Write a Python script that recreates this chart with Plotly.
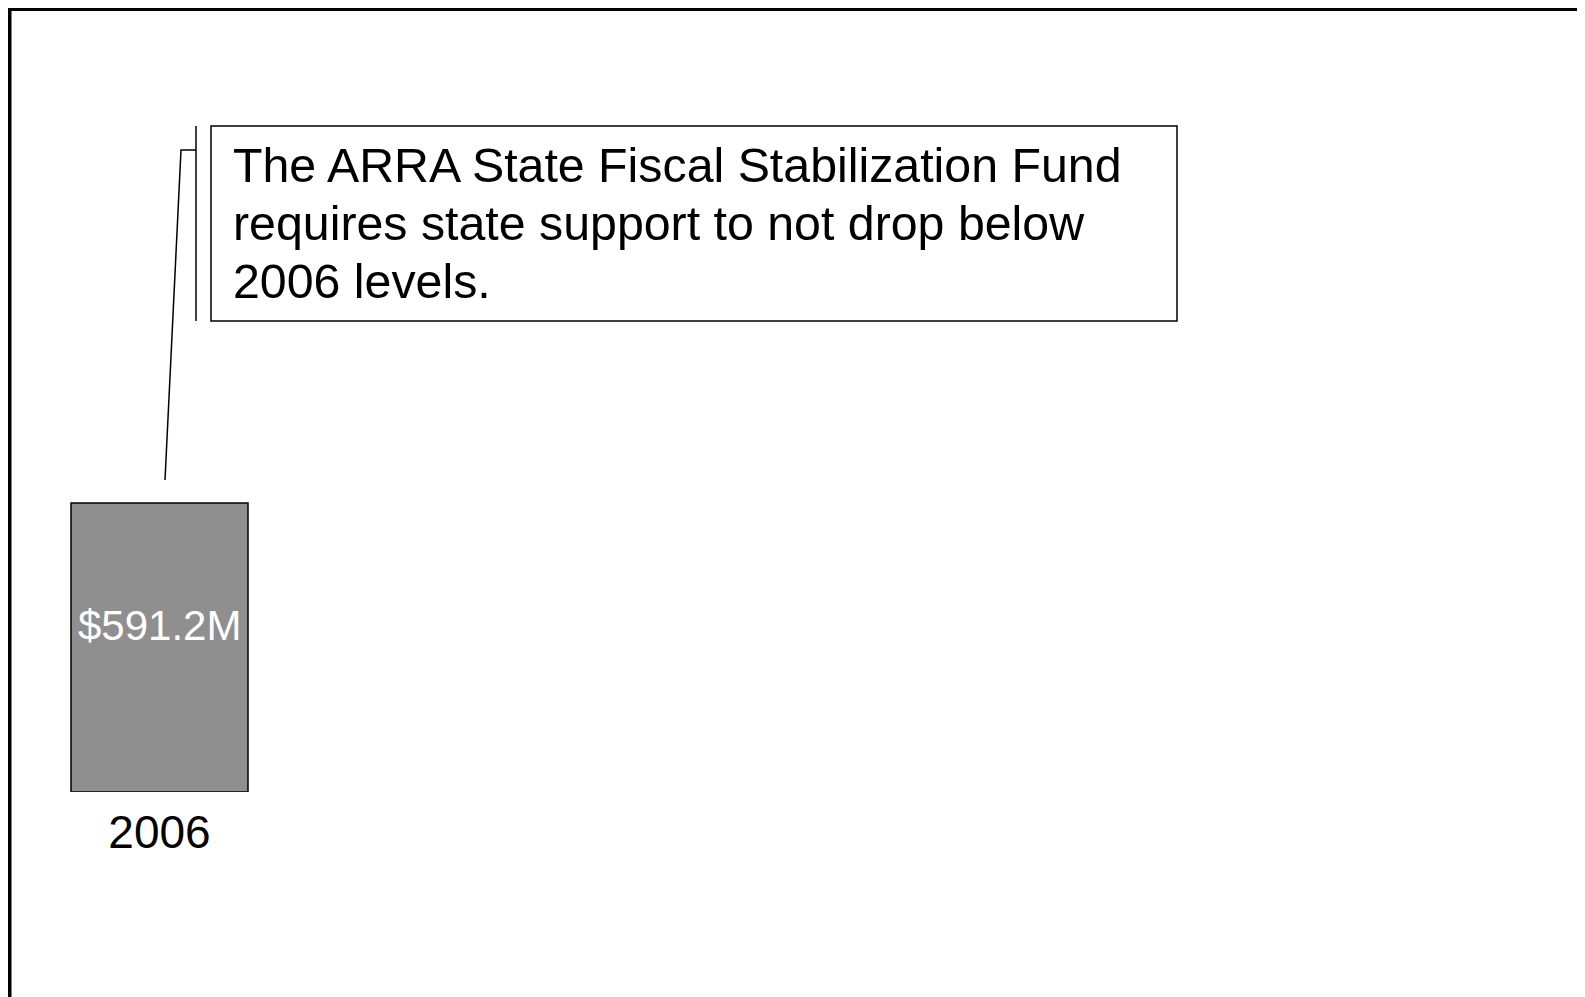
import plotly.graph_objects as go

# ---- data ----
years = ["2006"]
support_millions = [591.2]
bar_labels = ["$591.2M"]
callout_lines = [
    "The ARRA State Fiscal Stabilization Fund",
    "requires state support to not drop below",
    "2006 levels.",
]

W, H = 1585, 997
OFF = 8                 # page offset of the figure (body margin)
AXIS_PX = 792 - OFF     # figure pixel row of the x axis (bottom of plot area)
FONT = "Liberation Sans, Arial, sans-serif"


def px(x):
    return (x - OFF) / W


def py(y):
    return (AXIS_PX - (y - OFF)) / AXIS_PX


fig = go.Figure()
fig.add_trace(go.Bar(
    x=years,
    y=support_millions,
    width=1,
    marker=dict(color="#8f8f8f", line=dict(color="black", width=1.5)),
    hoverinfo="skip",
))

# value label inside the bar
for i, (v, lab) in enumerate(zip(support_millions, bar_labels)):
    fig.add_annotation(x=i, y=v / 2, yshift=22, text=lab, showarrow=False,
                       font=dict(family=FONT, size=42, color="white"),
                       xanchor="center", yanchor="middle")

# callout text lines
line_centers = [165.5, 223, 280.5]
for txt, cy in zip(callout_lines, line_centers):
    fig.add_annotation(xref="paper", yref="paper", x=px(231), y=py(cy),
                       text=txt, showarrow=False, xanchor="left", yanchor="middle",
                       font=dict(family=FONT, size=48.3, color="black"))

shapes = [
    # outer frame (top & left edges are visible)
    dict(type="rect", xref="paper", yref="paper", layer="above",
         x0=px(OFF), x1=px(11.5), y0=py(OFF), y1=py(1200),
         line=dict(width=0), fillcolor="black"),
    dict(type="rect", xref="paper", yref="paper", layer="above",
         x0=px(OFF), x1=px(1700), y0=py(OFF), y1=py(11),
         line=dict(width=0), fillcolor="black"),
    # callout box
    dict(type="rect", xref="paper", yref="paper",
         x0=px(211), x1=px(1177), y0=py(126), y1=py(321),
         line=dict(color="black", width=1.5), fillcolor="rgba(0,0,0,0)"),
    # callout bracket vertical line
    dict(type="line", xref="paper", yref="paper",
         x0=px(196), x1=px(196), y0=py(126), y1=py(321),
         line=dict(color="black", width=1.5)),
    # leader
    dict(type="path", xref="paper", yref="paper",
         path=f"M {px(196)},{py(150)} L {px(181)},{py(150)} L {px(165)},{py(480)}",
         line=dict(color="black", width=1.5)),
]

# x range so bar (width 1) spans ~71..248 px on the page
bar_px = 177.0
center_px = 159.5 - OFF
span = W / bar_px
x0 = -center_px / bar_px
ymax = AXIS_PX * support_millions[0] / (AXIS_PX - (503 - OFF))

fig.update_layout(
    width=W, height=H,
    margin=dict(l=0, r=0, t=0, b=H - AXIS_PX, pad=0),
    paper_bgcolor="white", plot_bgcolor="white",
    showlegend=False,
    shapes=shapes,
    xaxis=dict(type="category", range=[x0, x0 + span], showgrid=False,
               zeroline=False, showline=False, ticks="outside", ticklen=0,
               tickcolor="rgba(0,0,0,0)",
               tickfont=dict(family=FONT, size=46, color="black"),
               fixedrange=True),
    yaxis=dict(range=[0, ymax], visible=False, fixedrange=True),
    font=dict(family=FONT),
)

fig.write_html("out.html", config={"displayModeBar": False})
